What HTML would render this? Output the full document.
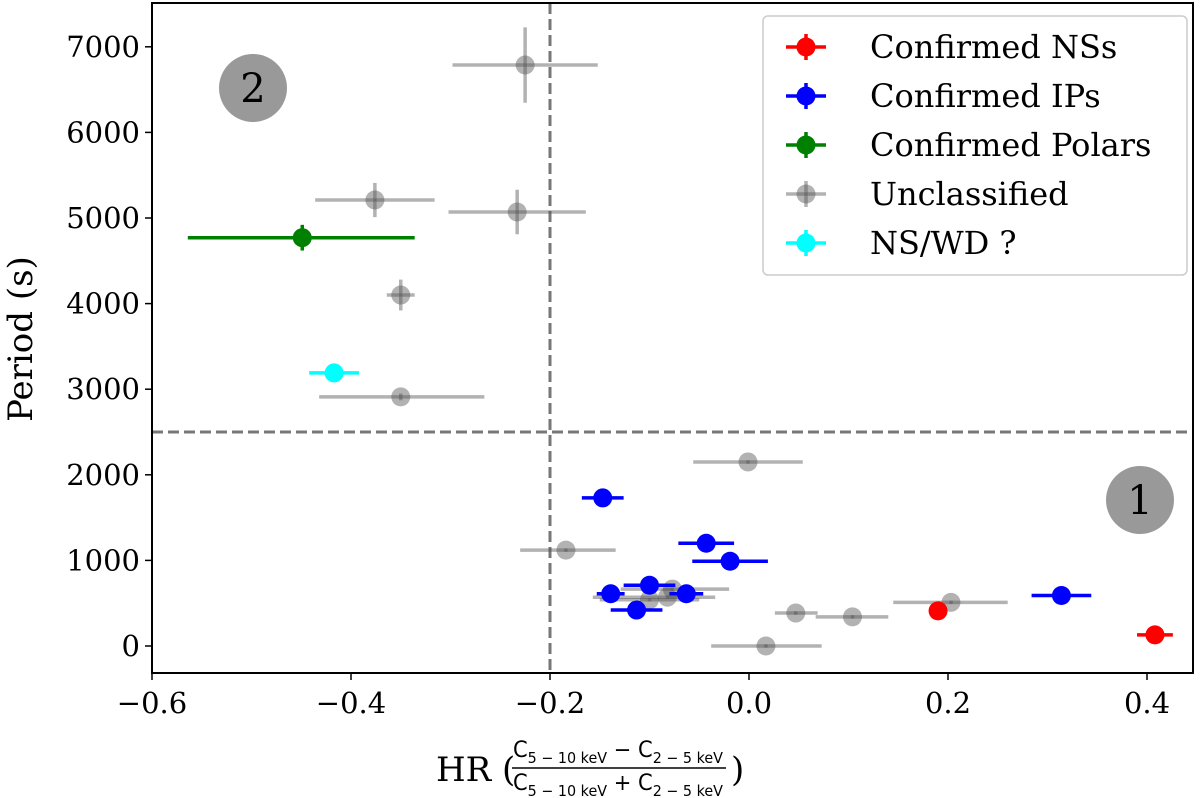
<!DOCTYPE html>
<html><head><meta charset="utf-8"><style>
body{margin:0;background:#fff}
svg{display:block;font-family:"DejaVu Serif","Liberation Serif",serif}
</style></head><body>
<svg id="chart" width="1200" height="798" viewBox="0 0 1200 798">
<g id="marks"></g>
<g id="axes"></g>
</svg>
<script>
const grayX=[-0.225,-0.376,-0.233,-0.350,-0.350,-0.001,-0.184,-0.077,-0.082,-0.100,0.047,0.104,0.017,0.203];
const grayY=[6787,5210,5070,4100,2910,2150,1120,665,570,540,385,340,0,510];
const grayXlo=[0.073,0.060,0.069,0.014,0.082,0.055,0.046,0.052,0.075,0.050,0.021,0.037,0.055,0.058];
const grayXhi=[0.073,0.060,0.069,0.014,0.084,0.055,0.050,0.057,0.048,0.050,0.022,0.036,0.056,0.057];
const grayYe=[440,200,260,180,40,20,20,20,20,20,20,20,20,20];
const blueX=[-0.147,-0.043,-0.019,-0.100,-0.139,-0.063,-0.113,0.314];
const blueY=[1730,1200,990,710,610,610,420,590];
const blueXe=[0.021,0.028,0.038,0.026,0.014,0.017,0.026,0.030];
const redX=[0.190,0.408];
const redY=[410,130];
const redXe=[0.0,0.018];
const greenX=[-0.449];const greenY=[4770];const greenXlo=[0.115];const greenXhi=[0.113];const greenYe=[150];
const cyanX=[-0.417];const cyanY=[3190];const cyanXe=[0.025];
const xTicks=[-0.6,-0.4,-0.2,0.0,0.2,0.4];
const xTickLabels=["\u22120.6","\u22120.4","\u22120.2","0.0","0.2","0.4"];
const yTicks=[0,1000,2000,3000,4000,5000,6000,7000];
const yTickLabels=["0","1000","2000","3000","4000","5000","6000","7000"];

const L=152,R=1193,T=3,B=673;
const X=v=>749+v*995;
const Y=v=>646-v*0.0856;
const NS="http://www.w3.org/2000/svg";
const marks=document.getElementById('marks'),axes=document.getElementById('axes');
function mk(tag,at,parent){const e=document.createElementNS(NS,tag);for(const k in at)e.setAttribute(k,at[k]);parent.appendChild(e);return e;}

let hl=mk('line',{x1:L,x2:R,y1:Y(2500),y2:Y(2500),stroke:'#777','stroke-width':3,'stroke-dasharray':'11,5'},marks);


let vl=mk('line',{x1:X(-0.2),x2:X(-0.2),y1:T,y2:B,stroke:'#777','stroke-width':3,'stroke-dasharray':'11,5'},marks);



[[1140,500,'1'],[253,88,'2']].forEach(b=>{
  const g=mk('g',{},marks);
  
  
  mk('circle',{cx:b[0],cy:b[1],r:34,fill:'#999'},g);
  const t=mk('text',{x:b[0],y:b[1]+14,'text-anchor':'middle','font-size':40,fill:'#000'},g);t.textContent=b[2];
});

function pt(x,y,xlo,xhi,ye,col,op,name){
  const g=mk('g',{},marks);
  
  
  mk('line',{x1:X(x-xlo),x2:X(x+xhi),y1:Y(y),y2:Y(y),stroke:col,'stroke-width':3.5,'stroke-opacity':op},g);
  if(ye>0) mk('line',{x1:X(x),x2:X(x),y1:Y(y-ye),y2:Y(y+ye),stroke:col,'stroke-width':3.5,'stroke-opacity':op},g);
  mk('circle',{cx:X(x),cy:Y(y),r:9.5,fill:col,'fill-opacity':op},g);
}
grayX.forEach((v,i)=>pt(v,grayY[i],grayXlo[i],grayXhi[i],grayYe[i],'#555',0.45,'unclassified-point'));
blueX.forEach((v,i)=>pt(v,blueY[i],blueXe[i],blueXe[i],0,'#0000ff',1,'ip-point'));
redX.forEach((v,i)=>pt(v,redY[i],redXe[i],redXe[i],0,'#ff0000',1,'ns-point'));
greenX.forEach((v,i)=>pt(v,greenY[i],greenXlo[i],greenXhi[i],greenYe[i],'#008000',1,'polar-point'));
cyanX.forEach((v,i)=>pt(v,cyanY[i],cyanXe[i],cyanXe[i],0,'#00ffff',1,'nswd-point'));

let fr=mk('rect',{x:L,y:T,width:R-L,height:B-T,fill:'none',stroke:'#000','stroke-width':2},axes);


xTicks.forEach((v,i)=>{
  mk('line',{x1:X(v),x2:X(v),y1:B,y2:B+7,stroke:'#000','stroke-width':1.5},axes);
  const t=mk('text',{x:X(v),y:B+40,'text-anchor':'middle','font-size':29},axes);
  t.textContent=xTickLabels[i];
  
  
});
yTicks.forEach((v,i)=>{
  mk('line',{x1:L-7,x2:L,y1:Y(v),y2:Y(v),stroke:'#000','stroke-width':1.5},axes);
  const t=mk('text',{x:L-12,y:Y(v)+10,'text-anchor':'end','font-size':29},axes);
  t.textContent=yTickLabels[i];
  
  
});
let yt=mk('text',{x:0,y:0,'text-anchor':'middle','font-size':34,transform:'translate(32,339) rotate(-90)'},axes);
yt.textContent='Period (s)';


const xg=mk('g',{},axes);


let a=mk('text',{x:436,y:781,'font-size':34},xg);a.textContent='HR (';
let n=mk('text',{x:513,y:757,'font-size':22,'font-family':'DejaVu Sans, sans-serif','textLength':210,'lengthAdjust':'spacingAndGlyphs'},xg);
n.innerHTML='C<tspan font-size="15" dy="6">5 \u2212 10 keV</tspan><tspan dy="-6"> \u2212 C</tspan><tspan font-size="15" dy="6">2 \u2212 5 keV</tspan>';
mk('line',{x1:512,x2:726,y1:768,y2:768,stroke:'#000','stroke-width':1.5},xg);
let d=mk('text',{x:513,y:790,'font-size':22,'font-family':'DejaVu Sans, sans-serif','textLength':210,'lengthAdjust':'spacingAndGlyphs'},xg);
d.innerHTML='C<tspan font-size="15" dy="6">5 \u2212 10 keV</tspan><tspan dy="-6"> + C</tspan><tspan font-size="15" dy="6">2 \u2212 5 keV</tspan>';
let c=mk('text',{x:731,y:781,'font-size':34},xg);c.textContent=')';

const lg=mk('g',{},axes);


mk('rect',{x:763,y:16,width:424,height:259,rx:5,fill:'#fff',stroke:'#ccc','stroke-width':1.5},lg);
const legNames=['Confirmed NSs','Confirmed IPs','Confirmed Polars','Unclassified','NS/WD ?'];
const legCols=['#ff0000','#0000ff','#008000','#555','#00ffff'];
const legOp=[1,1,1,0.45,1];
legNames.forEach((s,i)=>{
  const y=47+i*49;
  const g=mk('g',{},lg);
  
  
  mk('line',{x1:786,x2:826,y1:y,y2:y,stroke:legCols[i],'stroke-width':3.5,'stroke-opacity':legOp[i]},g);
  mk('line',{x1:806,x2:806,y1:y-13,y2:y+13,stroke:legCols[i],'stroke-width':3.5,'stroke-opacity':legOp[i]},g);
  mk('circle',{cx:806,cy:y,r:9.5,fill:legCols[i],'fill-opacity':legOp[i]},g);
  const t=mk('text',{x:870,y:y+11,'font-size':32},g);t.textContent=s;
});
</script>
</body></html>
